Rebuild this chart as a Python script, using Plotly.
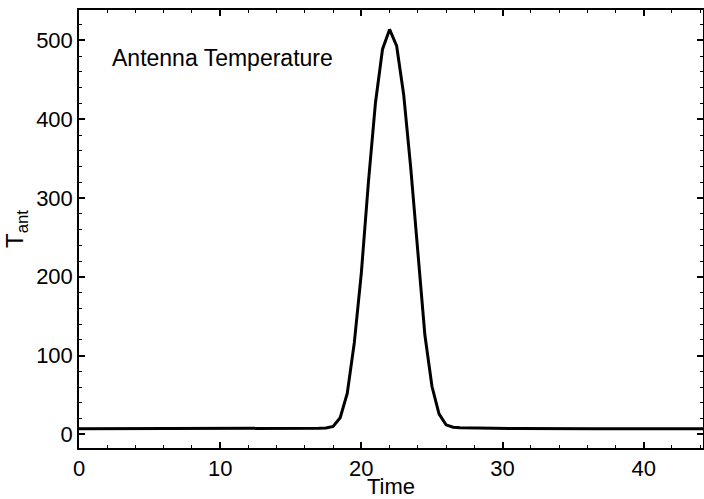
import plotly.graph_objects as go

time = [0.0, 0.5, 1.0, 1.5, 2.0, 2.5, 3.0, 3.5, 4.0, 4.5, 5.0, 5.5, 6.0, 6.5, 7.0, 7.5,
        8.0, 8.5, 9.0, 9.5, 10.0, 10.5, 11.0, 11.5, 12.0, 12.5, 13.0, 13.5, 14.0, 14.5,
        15.0, 15.5, 16.0, 16.5, 17.0, 17.5, 18.0, 18.5, 19.0, 19.5, 20.0, 20.5, 21.0,
        21.5, 22.0, 22.5, 23.0, 23.5, 24.0, 24.5, 25.0, 25.5, 26.0, 26.5, 27.0, 27.5,
        28.0, 28.5, 29.0, 29.5, 30.0, 30.5, 31.0, 31.5, 32.0, 32.5, 33.0, 33.5, 34.0,
        34.5, 35.0, 35.5, 36.0, 36.5, 37.0, 37.5, 38.0, 38.5, 39.0, 39.5, 40.0, 40.5,
        41.0, 41.5, 42.0, 42.5, 43.0, 43.5, 44.0, 44.5]
tant = [7, 7, 7, 7, 7, 7, 7, 7, 7, 7, 7, 7, 7, 7, 7, 7,
        7, 7, 7, 7, 7, 7, 7, 7, 7, 7, 7, 7, 7, 7.2,
        7.3, 7.4, 7.5, 7.6, 7.7, 8, 10, 21, 52, 116, 205, 320, 421,
        489, 514, 493, 431, 338, 235, 126, 61, 26, 12, 9, 8.3, 8,
        7.8, 7.6, 7.5, 7.4, 7.3, 7.2, 7.2, 7.1, 7.1, 7, 7, 7, 7,
        7, 7, 7, 7, 7, 7, 7, 7, 7, 7, 7, 7, 7,
        7, 7, 7, 7, 7, 7, 7, 7]

x_title = "Time"
y_title = "T<sub>ant</sub>"
label = "Antenna Temperature"

FONT = "Arial, 'Liberation Sans', sans-serif"

fig = go.Figure()
fig.add_trace(go.Scatter(x=time, y=tant, mode="lines",
                         line=dict(color="black", width=3), showlegend=False,
                         hoverinfo="skip"))

axis_common = dict(
    showline=True, linecolor="black", linewidth=1.5, mirror="ticks",
    ticks="inside", ticklen=6, tickwidth=1.5, tickcolor="black",
    showgrid=False, zeroline=False,
    tickfont=dict(family=FONT, size=22, color="black"),
)

fig.update_xaxes(range=[0, 44.2], dtick=10, tick0=0,
                 minor=dict(dtick=2, ticks="inside", ticklen=3, tickwidth=1.2,
                            tickcolor="black", showgrid=False),
                 title=dict(text=x_title, font=dict(family=FONT, size=22, color="black"),
                            standoff=2),
                 **axis_common)
fig.update_yaxes(range=[-17.4, 538.7], dtick=100, tick0=0,
                 minor=dict(dtick=20, ticks="inside", ticklen=3, tickwidth=1.2,
                            tickcolor="black", showgrid=False),
                 title=dict(text=y_title, font=dict(family=FONT, size=24, color="black"),
                            standoff=6),
                 **axis_common)

fig.add_annotation(x=0.0497, y=0.890, xref="paper", yref="paper",
                   xanchor="left", yanchor="middle", showarrow=False,
                   text=label, font=dict(family=FONT, size=23, color="black"))

fig.update_layout(width=704, height=499,
                  margin=dict(l=79, r=1, t=10, b=51, autoexpand=False),
                  plot_bgcolor="white", paper_bgcolor="white")

fig.write_html("out.html", config={"displayModeBar": False},
               post_script="document.body.style.margin='0';document.body.style.overflow='hidden';")
